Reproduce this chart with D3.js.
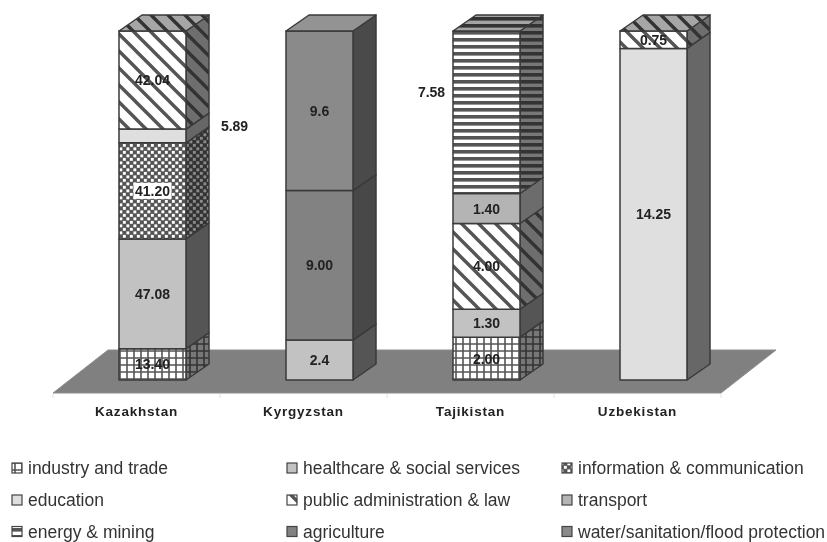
<!DOCTYPE html>
<html><head><meta charset="utf-8">
<script src="https://cdnjs.cloudflare.com/ajax/libs/d3/7.8.5/d3.min.js"></script>
<style>
html,body{margin:0;padding:0;background:#fff}
svg{display:block;filter:blur(0.55px)}
text{font-family:"Liberation Sans",Arial,sans-serif}
</style></head><body>
<svg id="c" width="827" height="542"></svg>
<script>
const categories = ["Kazakhstan","Kyrgyzstan","Tajikistan","Uzbekistan"];
const seriesNames = ["industry and trade","healthcare & social services","information & communication","education","public administration & law","transport","energy & mining","agriculture","water/sanitation/flood protection"];
const industry    = [13.40, 0, 2.00, 0];
const healthcare  = [47.08, 2.4, 1.30, 0];
const information = [41.20, 0, 0, 0];
const education   = [5.89, 0, 0, 14.25];
const publicAdmin = [42.04, 0, 4.00, 0.75];
const transport   = [0, 0, 1.40, 0];
const energy      = [0, 0, 7.58, 0];
const agriculture = [0, 9.00, 0, 0];
const water       = [0, 9.6, 0, 0];
const labelText = [
  ["13.40","","2.00",""],["47.08","2.4","1.30",""],["41.20","","",""],["5.89","","","14.25"],
  ["42.04","","4.00","0.75"],["","","1.40",""],["","","7.58",""],["","9.00","",""],["","9.6","",""]
];
const seriesValues = [industry,healthcare,information,education,publicAdmin,transport,energy,agriculture,water];

const W=827,H=542, depthX=23, depthY=16, barW=67, barShift=16;
const svg=d3.select("#c");
const defs=svg.append("defs");

// face colours: front, side, top
const faces=[
 {k:"grid",  f:"#ffffff",s:"#777777",t:"#b5b5b5"},
 {k:"solid", f:"#c2c2c2",s:"#555555",t:"#8f8f8f"},
 {k:"cross", f:"#ffffff",s:"#8a8a8a",t:"#b5b5b5"},
 {k:"solid", f:"#dfdfdf",s:"#676767",t:"#a8a8a8"},
 {k:"diag",  f:"#ffffff",s:"#6e6e6e",t:"#a6a6a6"},
 {k:"solid", f:"#b4b4b4",s:"#6c6c6c",t:"#8f8f8f"},
 {k:"horiz", f:"#ffffff",s:"#777777",t:"#a4a4a4"},
 {k:"solid", f:"#828282",s:"#484848",t:"#707070"},
 {k:"solid", f:"#8a8a8a",s:"#4a4a4a",t:"#939393"}
];
function pat(id,kind,base){
  const sz={grid:7,cross:7,diag:17,horiz:7}[kind];
  const p=defs.append("pattern").attr("id",id).attr("patternUnits","userSpaceOnUse").attr("width",sz).attr("height",sz);
  p.append("rect").attr("width",sz).attr("height",sz).attr("fill",base);
  const ink=base==="#ffffff"?"#555555":"#333333";
  if(kind==="grid"){
    p.append("path").attr("d","M0 1H7M1 0V7").attr("stroke",ink).attr("stroke-width",1.6);
  } else if(kind==="cross"){
    p.append("rect").attr("width",7).attr("height",7).attr("fill",ink);
    p.append("rect").attr("x",0.4).attr("y",0.4).attr("width",2.9).attr("height",2.9).attr("fill",base);
    p.append("rect").attr("x",3.9).attr("y",3.9).attr("width",2.9).attr("height",2.9).attr("fill",base);
  } else if(kind==="diag"){
    p.append("path").attr("d","M-1 -1L18 18M-2 15L2 19M15 -2L19 2").attr("stroke",ink).attr("stroke-width",3.4);
  } else if(kind==="horiz"){
    p.append("rect").attr("y",3).attr("width",7).attr("height",3.6).attr("fill",ink);
  }
}
faces.forEach((d,i)=>{
  if(d.k==="solid")return;
  pat("pf"+i,d.k,d.f); pat("ps"+i,d.k,d.s); pat("pt"+i,d.k,d.t);
});
const fill=(i,w)=>faces[i].k==="solid"?faces[i][w]:`url(#p${w}${i})`;

const table=categories.map((c,j)=>{const r={cat:c};seriesNames.forEach((s,i)=>r[s]=seriesValues[i][j]);return r;});
const stacked=d3.stack().keys(seriesNames).offset(d3.stackOffsetExpand)(table);

const x=d3.scaleBand().domain(categories).range([53,721]);
const y=d3.scaleLinear().domain([0,1]).range([380,31]);

// floor
const fx0=x.range()[0], fx1=x.range()[1], fy0=393, fy1=350;
svg.append("path").attr("d",d3.line()([[fx0,fy0],[fx0+55,fy1],[fx1+55,fy1],[fx1,fy0]])+"Z")
  .attr("fill","#808080").attr("stroke","#8c8c8c").attr("stroke-width",1);

// axis
const ax=svg.append("g").attr("transform",`translate(0,${fy0})`).call(d3.axisBottom(x).tickSize(0).tickPadding(13));
ax.select(".domain").remove();
ax.selectAll("text").attr("font-size",13.5).attr("font-weight","bold").attr("fill","#222")
  .attr("letter-spacing",0.8).style("font-family",'"Liberation Sans",Arial,sans-serif');
svg.append("g").selectAll("line").data(categories.concat("end")).join("line")
  .attr("x1",d=>d==="end"?fx1:x(d)).attr("x2",d=>d==="end"?fx1:x(d))
  .attr("y1",fy0+1).attr("y2",fy0+5).attr("stroke","#e2e2e2");

// bars
const ink="#3a3a3a";
const bx=c=>x(c)+x.bandwidth()/2+barShift-barW/2;
const bars=svg.append("g");
stacked.forEach((ser,i)=>{
  ser.forEach((d,j)=>{
    if(d[1]-d[0]<=0)return;
    const c=categories[j],l=bx(c),r=l+barW,t=y(d[1]),b=y(d[0]);
    const g=bars.append("g").attr("stroke",ink).attr("stroke-width",1.5).attr("stroke-linejoin","round");
    g.append("path").attr("d",d3.line()([[r,t],[r+depthX,t-depthY],[r+depthX,b-depthY],[r,b]])+"Z").attr("fill",fill(i,"s"));
    g.append("rect").attr("x",l).attr("y",t).attr("width",barW).attr("height",b-t).attr("fill",fill(i,"f"));
    if(d[1]>0.9999){
      g.append("path").attr("d",d3.line()([[l,t],[l+depthX,t-depthY],[r+depthX,t-depthY],[r,t]])+"Z").attr("fill",fill(i,"t"));
    }
  });
});

// data labels
const labelShift={ "5.89":[82,-10], "7.58":[-55,-20] };
const labels=svg.append("g");
stacked.forEach((ser,i)=>{
  ser.forEach((d,j)=>{
    const s=labelText[i][j]; if(!s)return;
    const c=categories[j], sh=labelShift[s]||[0,0];
    const cx=bx(c)+barW/2+sh[0], cy=y((d[0]+d[1])/2)+sh[1];
    if(s==="41.20"){
      labels.append("rect").attr("x",cx-19).attr("y",cy-8).attr("width",38).attr("height",16).attr("fill","#fff");
    }
    labels.append("text").attr("x",cx).attr("y",cy).attr("dy","0.36em").attr("text-anchor","middle")
      .attr("font-size",14).attr("font-weight","bold").attr("fill","#222").text(s);
  });
});

// legend
const colX=[12,287,562], rowY=[468,500,531.5];
const leg=svg.append("g");
seriesNames.forEach((n,i)=>{
  const cx=colX[i%3], cy=rowY[Math.floor(i/3)];
  leg.append("rect").attr("x",cx).attr("y",cy-5).attr("width",10).attr("height",10)
    .attr("fill",fill(i,"f")).attr("stroke","#444").attr("stroke-width",1.2);
  leg.append("text").attr("x",cx+16).attr("y",cy).attr("dy","0.36em")
    .attr("font-size",17.5).attr("fill","#333").text(n);
});
</script>
</body></html>
